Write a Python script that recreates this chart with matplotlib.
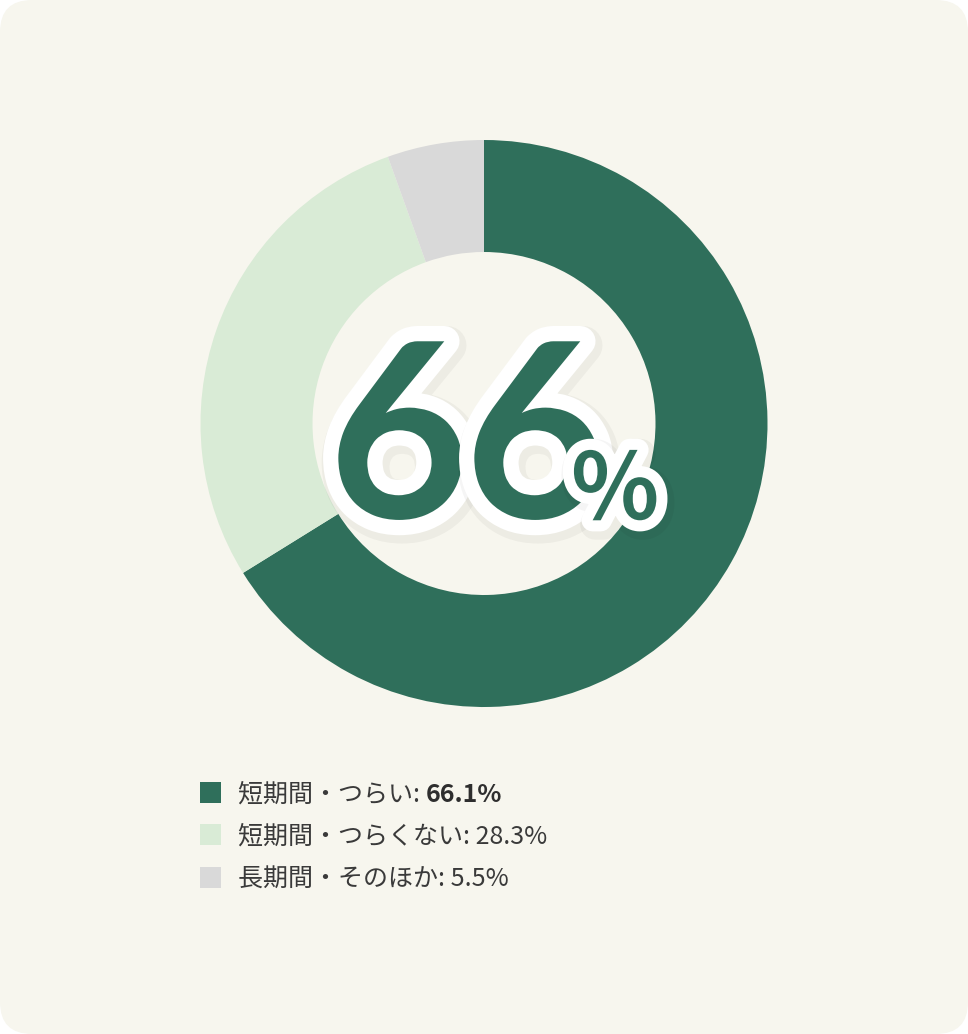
import matplotlib
matplotlib.use("Agg")
import matplotlib.pyplot as plt
import matplotlib.patheffects as pe
from matplotlib.patches import FancyBboxPatch, Rectangle

plt.rcParams['font.family'] = ['Noto Sans CJK JP', 'DejaVu Sans']

# Data
labels = ["短期間・つらい", "短期間・つらくない", "長期間・そのほか"]
values = [66.1, 28.3, 5.5]
colors = ["#2f6f5b", "#d9ebd6", "#d9d9d9"]
center_digits = ["6", "6"]

W, H = 968, 1034
fig = plt.figure(figsize=(W / 100, H / 100), dpi=100, facecolor="white")
ax = fig.add_axes([0, 0, 1, 1])

# card background
card = FancyBboxPatch((32, 32), W - 64, H - 64, boxstyle="round,pad=32",
                      fc="#f7f6ee", ec="none", zorder=0)
ax.add_patch(card)

# donut
cx, cy = 484, H - 423.5
ax.pie(values, colors=colors, startangle=90, counterclock=False,
       center=(cx, cy), radius=283.5, frame=True,
       wedgeprops=dict(width=112, linewidth=0))
ax.set_xlim(0, W)
ax.set_ylim(0, H)
ax.set_aspect("equal")
ax.axis("off")

# big number in the middle
def outline(w):
    return [pe.Stroke(linewidth=w + 6, foreground="black", alpha=0.04, offset=(2, -3)),
            pe.Stroke(linewidth=w, foreground="white"),
            pe.Normal()]

baseline = H - 518
for k, (d, x) in enumerate(zip(center_digits, [399, 535])):
    ax.text(x, baseline, d, ha="center", va="baseline",
            fontsize=176, fontfamily="Lato", fontweight="bold",
            color=colors[0], path_effects=outline(22), zorder=5 + k)
ax.text(571, baseline - 1, "%", ha="left", va="baseline",
        fontsize=66, fontweight="bold", color=colors[0],
        path_effects=outline(16), zorder=8)

# legend
rows_y = [792, 834, 877]
renderer = fig.canvas.get_renderer()
for i, (lab, val, col) in enumerate(zip(labels, values, colors)):
    y = H - rows_y[i]
    ax.add_patch(Rectangle((200, y - 10.5), 21, 21, fc=col, ec="none"))
    if i == 0:
        t = ax.text(238, y, lab + ": ", ha="left", va="center_baseline",
                    fontsize=18, color="#3a3a3a")
        bb = t.get_window_extent(renderer=renderer)
        ax.text(bb.x1, y, f"{val}%", ha="left", va="center_baseline",
                fontsize=18, fontweight="bold", color="#2e2e2e")
    else:
        ax.text(238, y, f"{lab}: {val}%", ha="left", va="center_baseline",
                fontsize=18, color="#3a3a3a")

fig.savefig("out.png", dpi=100, facecolor="white")
